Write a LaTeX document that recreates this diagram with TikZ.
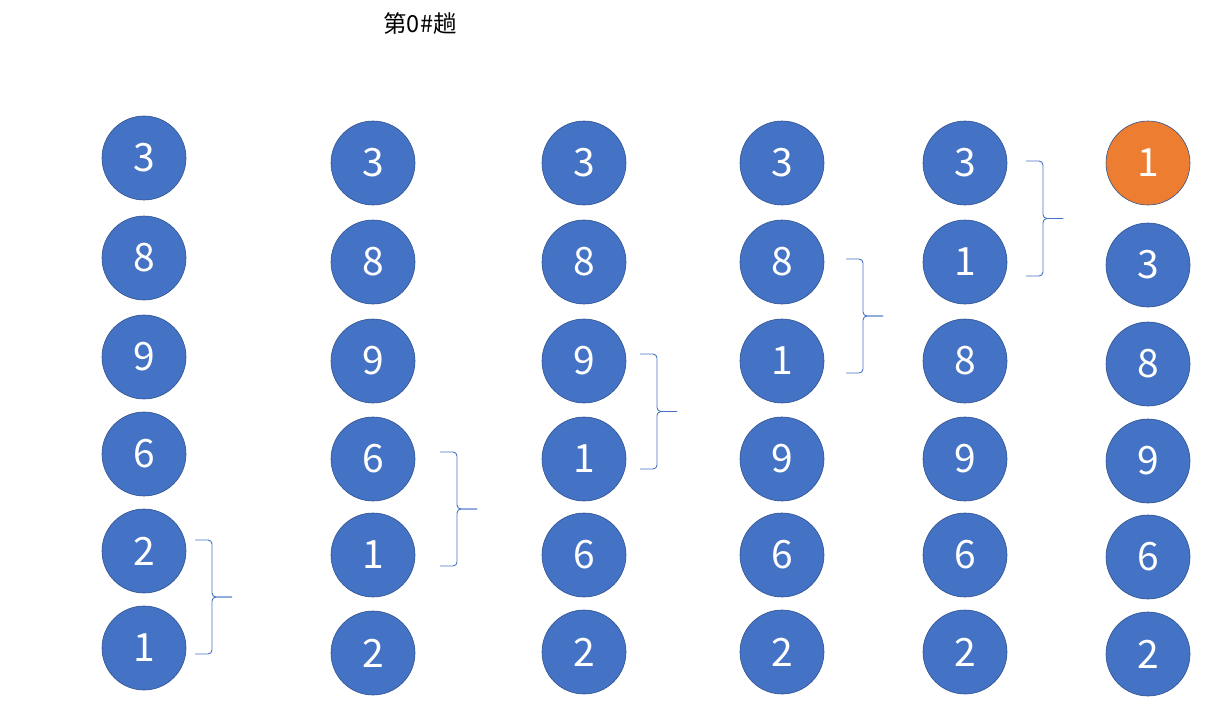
\documentclass[tikz,border=0pt]{standalone}
\usepackage{fontspec}
\setmainfont{Noto Sans CJK SC}
\newfontfamily\cjk{Noto Sans CJK SC}
\definecolor{ballblue}{HTML}{4472C4}
\definecolor{balledge}{HTML}{2F528F}
\definecolor{ballorange}{HTML}{ED7D31}
\begin{document}
\begin{tikzpicture}[x=1pt,y=-1pt,
  ball/.style={circle,minimum size=84pt,inner sep=0pt,fill=ballblue,draw=balledge,line width=0.6pt,text=white,font=\fontsize{39}{39}\selectfont},
  hot/.style={ball,fill=ballorange},
  brc/.style={draw=ballblue,line width=0.9pt,rounded corners=4pt}]
\useasboundingbox (0,0) rectangle (1226,713);
\node[font=\cjk\fontsize{23.5}{23.5}\selectfont] (title) at (420,24) {第0\#趟};
% column 1
\node[ball] (a1) at (144,158) {3};
\node[ball] (a2) at (144,258) {8};
\node[ball] (a3) at (144,357) {9};
\node[ball] (a4) at (144,454) {6};
\node[ball] (a5) at (144,551) {2};
\node[ball] (a6) at (144,648) {1};
% column 2
\node[ball] (b1) at (373,163) {3};
\node[ball] (b2) at (373,262) {8};
\node[ball] (b3) at (373,361) {9};
\node[ball] (b4) at (373,459) {6};
\node[ball] (b5) at (373,555) {1};
\node[ball] (b6) at (373,653) {2};
% column 3
\node[ball] (c1) at (584,163) {3};
\node[ball] (c2) at (584,262) {8};
\node[ball] (c3) at (584,361) {9};
\node[ball] (c4) at (584,459) {1};
\node[ball] (c5) at (584,555) {6};
\node[ball] (c6) at (584,652) {2};
% column 4
\node[ball] (d1) at (782,163) {3};
\node[ball] (d2) at (782,262) {8};
\node[ball] (d3) at (782,361) {1};
\node[ball] (d4) at (782,459) {9};
\node[ball] (d5) at (782,555) {6};
\node[ball] (d6) at (782,652) {2};
% column 5
\node[ball] (e1) at (965,163) {3};
\node[ball] (e2) at (965,262) {1};
\node[ball] (e3) at (965,361) {8};
\node[ball] (e4) at (965,459) {9};
\node[ball] (e5) at (965,555) {6};
\node[ball] (e6) at (965,652) {2};
% column 6
\node[hot]  (f1) at (1148,163) {1};
\node[ball] (f2) at (1148,265) {3};
\node[ball] (f3) at (1148,364) {8};
\node[ball] (f4) at (1148,461) {9};
\node[ball] (f5) at (1148,557) {6};
\node[ball] (f6) at (1148,654) {2};
% braces
\foreach \x/\yt/\yb in {195/540/654, 440/452/566, 640/354/469, 846/259/373, 1026/161/276}{
  \pgfmathsetmacro\ym{(\yt+\yb)/2}
  \draw[brc] (\x,\yt) -- (\x+17,\yt) -- (\x+17,\ym) -- (\x+37,\ym);
  \draw[brc] (\x,\yb) -- (\x+17,\yb) -- (\x+17,\ym) -- (\x+37,\ym);
}
\end{tikzpicture}
\end{document}
